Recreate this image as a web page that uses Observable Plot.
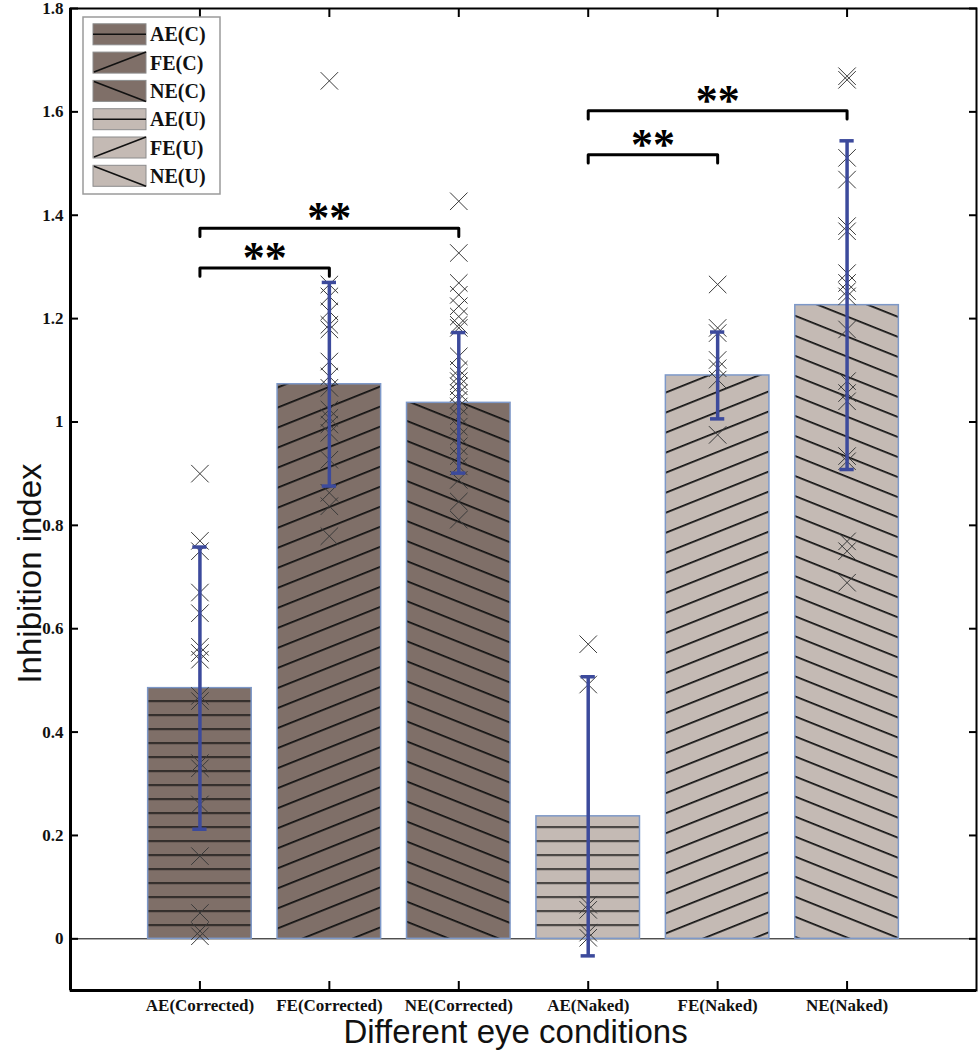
<!DOCTYPE html>
<html><head><meta charset="utf-8">
<script src="https://cdn.jsdelivr.net/npm/d3@7"></script>
<script src="https://cdn.jsdelivr.net/npm/@observablehq/plot@0.6"></script>
<style>body{margin:0;background:#fff}</style>
</head><body><div id="chart"></div>
<script>
// ---------- data ----------
const categories = ["AE(Corrected)","FE(Corrected)","NE(Corrected)","AE(Naked)","FE(Naked)","NE(Naked)"];
const legendNames = ["AE(C)","FE(C)","NE(C)","AE(U)","FE(U)","NE(U)"];
const eyeType = ["AE","FE","NE","AE","FE","NE"];
const correction = ["Corrected","Corrected","Corrected","Naked","Naked","Naked"];
const means  = [0.485, 1.073, 1.037, 0.237, 1.090, 1.226];
const errors = [0.273, 0.197, 0.136, 0.270, 0.084, 0.318];
const pointsAEC = [0.90,0.77,0.75,0.67,0.63,0.565,0.553,0.54,0.47,0.46,0.34,0.33,0.26,0.16,0.05,0.015,0.005];
const pointsFEC = [1.66,1.266,1.243,1.214,1.188,1.179,1.117,1.088,1.066,1.024,1.008,0.995,0.979,0.927,0.863,0.837,0.779];
const pointsNEC = [1.427,1.327,1.269,1.246,1.224,1.204,1.188,1.182,1.127,1.101,1.088,1.079,1.069,1.056,1.043,1.030,1.011,0.991,0.972,0.953,0.934,0.914,0.888,0.846,0.811];
const pointsAEN = [0.57,0.492,0.066,0.056,0.012,0.002];
const pointsFEN = [1.266,1.182,1.172,1.120,1.104,1.082,0.975];
const pointsNEN = [1.669,1.662,1.511,1.469,1.379,1.369,1.288,1.269,1.253,1.243,1.179,1.079,1.056,1.040,0.934,0.924,0.769,0.750,0.689];
const bracketFrom = [0, 0, 3, 3];
const bracketTo   = [1, 2, 4, 5];
const bracketY    = [1.298, 1.375, 1.517, 1.602];
const bracketText = ["**","**","**","**"];
const yTicks = [0, 0.2, 0.4, 0.6, 0.8, 1, 1.2, 1.4, 1.6, 1.8];
const yLabel = "Inhibition index";
const xLabel = "Different eye conditions";

// ---------- derived tables ----------
const bars = categories.map((c, i) => ({
  cat: c, pos: i + 1, type: eyeType[i], group: correction[i],
  mean: means[i], lo: means[i] - errors[i], hi: means[i] + errors[i]
}));
const points = [pointsAEC, pointsFEC, pointsNEC, pointsAEN, pointsFEN, pointsNEN]
  .flatMap((arr, i) => arr.map(v => ({pos: i + 1, v})));
const brackets = bracketFrom.map((f, k) => ({id: k, from: f + 1, to: bracketTo[k] + 1, y: bracketY[k], text: bracketText[k]}));
const drop = 0.016;
const bracketPts = brackets.flatMap(b => [
  {id: b.id, x: b.from, y: b.y - drop}, {id: b.id, x: b.from, y: b.y},
  {id: b.id, x: b.to, y: b.y}, {id: b.id, x: b.to, y: b.y - drop}
]);
const xTickPos = categories.map((c, i) => i + 1);

// ---------- styles ----------
const fillFor = {Corrected: "#7f6f68", Naked: "#c4bab4"};
const hatchFor = {AE: "url(#hatchAE)", FE: "url(#hatchFE)", NE: "url(#hatchNE)"};
const serif = "Liberation Serif, Times New Roman, serif";
const sans = "Liberation Sans, Arial, sans-serif";
const halfBar = 0.4, halfCap = 0.055;
const errColor = "#3c4a9c";

function hatchDefs(index, scales) {
  const defs = d3.create("svg:defs");
  const y0 = scales.y(0);
  const add = (id, angle, spacing) => {
    const p = defs.append("pattern").attr("id", id)
      .attr("patternUnits", "userSpaceOnUse")
      .attr("width", 40).attr("height", spacing)
      .attr("x", 0).attr("y", y0);
    if (angle) p.attr("patternTransform", `rotate(${angle} 0 ${y0})`);
    p.append("line").attr("x1", 0).attr("x2", 40).attr("y1", 0.8).attr("y2", 0.8)
      .attr("stroke", "#111").attr("stroke-width", 1.6);
  };
  add("hatchAE", 0, 14);
  add("hatchFE", -21.8, 18.6);
  add("hatchNE", 21.8, 18.6);
  return defs.node();
}

function legendMark(index, scales, values, dims) {
  const g = d3.create("svg:g").attr("font-family", serif).attr("font-weight", "bold")
    .attr("font-size", 20).attr("text-anchor", "start");
  const x0 = dims.marginLeft + 13, y0 = 17;
  g.append("rect").attr("x", x0).attr("y", y0).attr("width", 137).attr("height", 177)
    .attr("fill", "white").attr("stroke", "#9a9a9a").attr("stroke-width", 1.5);
  legendNames.forEach((name, i) => {
    const cy = y0 + 17.3 + i * 28.3;
    const sx = x0 + 10, sw = 53, sh = 21;
    g.append("rect").attr("x", sx).attr("y", cy - sh / 2).attr("width", sw).attr("height", sh)
      .attr("fill", fillFor[correction[i]]).attr("stroke", "#8c8c8c").attr("stroke-width", 1);
    let l;
    if (eyeType[i] === "AE") l = [sx, cy, sx + sw, cy];
    else if (eyeType[i] === "FE") l = [sx + 1, cy + sh / 2 - 1, sx + sw, cy - sh / 2];
    else l = [sx + 1, cy - sh / 2 + 1, sx + sw, cy + sh / 2];
    g.append("line").attr("x1", l[0]).attr("y1", l[1]).attr("x2", l[2]).attr("y2", l[3])
      .attr("stroke", "#111").attr("stroke-width", 1.6);
    g.append("text").attr("x", sx + sw + 4).attr("y", cy).attr("dy", "0.35em")
      .attr("text-anchor", "start").attr("fill", "#111").text(name);
  });
  return g.node();
}

const chart = Plot.plot({
  width: 978, height: 1050,
  marginLeft: 70, marginRight: 2, marginTop: 8, marginBottom: 60,
  style: {background: "white", fontFamily: serif},
  x: {domain: [0, 7], axis: null},
  y: {domain: [-0.1, 1.8], axis: null},
  color: {type: "identity"},
  marks: [
    hatchDefs,
    Plot.ruleY([0], {stroke: "black", strokeWidth: 1}),
    Plot.rect(bars, {x1: d => d.pos - halfBar, x2: d => d.pos + halfBar, y1: d => 0, y2: "mean", fill: d => fillFor[d.group]}),
    Plot.rect(bars, {x1: d => d.pos - halfBar, x2: d => d.pos + halfBar, y1: d => 0, y2: "mean", fill: d => hatchFor[d.type], stroke: "#7d98c8", strokeWidth: 1.5}),
    Plot.dot(points, {x: "pos", y: "v", symbol: "times", r: 8, stroke: "#3a3a3a", strokeWidth: 1}),
    Plot.ruleX(bars, {x: "pos", y1: "lo", y2: "hi", stroke: errColor, strokeWidth: 3.5}),
    Plot.ruleY(bars, {y: "hi", x1: d => d.pos - halfCap, x2: d => d.pos + halfCap, stroke: errColor, strokeWidth: 3.5}),
    Plot.ruleY(bars, {y: "lo", x1: d => d.pos - halfCap, x2: d => d.pos + halfCap, stroke: errColor, strokeWidth: 3.5}),
    Plot.line(bracketPts, {x: "x", y: "y", z: "id", stroke: "black", strokeWidth: 3}),
    Plot.text(brackets, {x: d => (d.from + d.to) / 2, y: "y", text: "text", fontSize: 44, fontWeight: "bold", fontFamily: serif, fill: "black", dy: -10}),
    // axes: tick labels
    Plot.axisY(yTicks, {anchor: "left", tickSize: 0, tickPadding: 7, tickFormat: d => String(d), fontSize: 17, fontWeight: "bold", fontFamily: serif, label: null, fill: "#111"}),
    Plot.axisX(xTickPos, {anchor: "bottom", tickSize: 0, tickPadding: 8, tickFormat: i => categories[i - 1], fontSize: 17, fontWeight: "bold", fontFamily: serif, label: null, fill: "#111"}),
    // inward ticks
    Plot.axisY(yTicks, {anchor: "left", tickSize: 8, dx: 8, fill: "none", tickFormat: () => "", stroke: "black", strokeWidth: 2, label: null}),
    Plot.axisY(yTicks, {anchor: "right", tickSize: 8, dx: -8, fill: "none", tickFormat: () => "", stroke: "black", strokeWidth: 2, label: null}),
    Plot.axisX(xTickPos, {anchor: "bottom", tickSize: 9, dy: -9, fill: "none", tickFormat: () => "", stroke: "black", strokeWidth: 2, label: null}),
    Plot.axisX(xTickPos, {anchor: "top", tickSize: 8, dy: 8, fill: "none", tickFormat: () => "", stroke: "black", strokeWidth: 2, label: null}),
    Plot.frame({stroke: "black", strokeWidth: 2}),
    Plot.ruleX([0], {stroke: "black", strokeWidth: 3}),
    Plot.ruleY([-0.1], {stroke: "black", strokeWidth: 3}),
    // axis titles
    Plot.text([yLabel], {text: d => d, frameAnchor: "left", textAnchor: "middle", lineAnchor: "middle", dx: -40, dy: 74, rotate: -90, fontSize: 33, fontFamily: sans, fill: "#111"}),
    Plot.text([xLabel], {text: d => d, frameAnchor: "bottom", textAnchor: "middle", lineAnchor: "middle", dx: -8, dy: 42, fontSize: 33, fontFamily: sans, fill: "#111"}),
    legendMark
  ]
});
document.getElementById("chart").appendChild(chart);
</script>
</body></html>
